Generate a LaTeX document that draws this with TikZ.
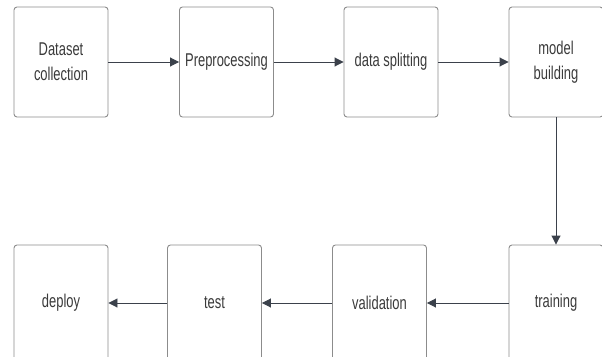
\documentclass[tikz,border=0pt]{standalone}
\usepackage{fontspec}
\setmainfont{Liberation Sans}[FakeStretch=0.7]
\usetikzlibrary{arrows.meta}
\definecolor{boxline}{HTML}{8C8C8C}
\definecolor{arrowc}{HTML}{3B414B}
\definecolor{textc}{HTML}{3A3A3A}
\tikzset{
  stagebox/.style={draw=boxline, line width=0.9pt, rounded corners=3pt,
    minimum width=94pt, minimum height=110pt, inner sep=0pt,
    align=center, text=textc, font=\fontsize{18.5}{25}\selectfont},
  lowbox/.style={stagebox, minimum height=116pt},
  flow/.style={draw=arrowc, line width=0.9pt,
    -{Triangle[length=9pt,width=9pt]}},
}
\begin{document}
\begin{tikzpicture}[x=1pt,y=-1pt]
\useasboundingbox (0,0) rectangle (602,356);
% top row
\node[stagebox] (ds) at (61,62) {Dataset\\collection};
\node[stagebox] (pp) at (226.5,62) {Preprocessing};
\node[stagebox] (sp) at (391,62) {data splitting};
\node[stagebox] (mb) at (556,62) {model\\building};
% bottom row, running past the lower edge
\node[lowbox] (de) at (61,303) {deploy};
\node[lowbox] (te) at (214.5,303) {test};
\node[lowbox] (va) at (379.5,303) {validation};
\node[lowbox] (tr) at (556,303) {training};
% connectors
\draw[flow] (ds) -- (pp);
\draw[flow] (pp) -- (sp);
\draw[flow] (sp) -- (mb);
\draw[flow] (mb) -- (tr);
\draw[flow] (tr) -- (va);
\draw[flow] (va) -- (te);
\draw[flow] (te) -- (de);
\end{tikzpicture}
\end{document}
